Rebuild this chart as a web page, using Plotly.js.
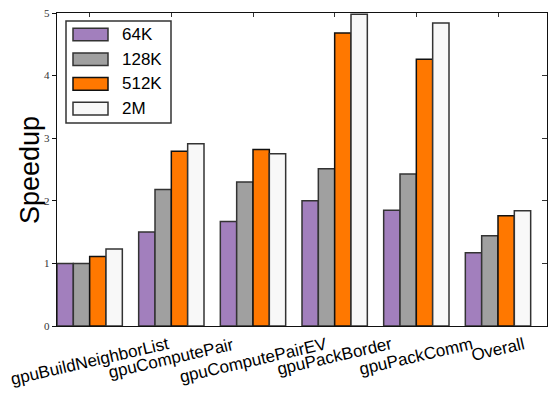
<!DOCTYPE html>
<html>
<head>
<meta charset="utf-8">
<script src="https://cdn.plot.ly/plotly-3.0.1.min.js"></script>
<style>html,body{margin:0;padding:0;background:#fff;}#chart{width:554px;height:398px;}</style>
</head>
<body>
<div id="chart"></div>
<script>
// ---- data ----
const categories = ['gpuBuildNeighborList', 'gpuComputePair', 'gpuComputePairEV', 'gpuPackBorder', 'gpuPackComm', 'Overall'];
const seriesNames = ['64K', '128K', '512K', '2M'];
const speedup64K  = [1.00, 1.50, 1.67, 2.00, 1.85, 1.17];
const speedup128K = [1.00, 2.18, 2.30, 2.51, 2.43, 1.44];
const speedup512K = [1.11, 2.79, 2.82, 4.68, 4.26, 1.76];
const speedup2M   = [1.23, 2.91, 2.75, 4.98, 4.84, 1.84];
const yTickValues = [0, 1, 2, 3, 4, 5];
const yTitle = 'Speedup';

// ---- styles ----
const colors = ['#a27fbd', '#a0a0a0', '#ff7800', '#f8f8f8'];
const edgeColors = ['#333333', '#333333', '#111111', '#333333'];
const seriesValues = [speedup64K, speedup128K, speedup512K, speedup2M];

const traces = seriesNames.map((name, i) => ({
  type: 'bar',
  name: name,
  x: categories,
  y: seriesValues[i],
  marker: { color: colors[i], line: { color: edgeColors[i], width: 1.5 } },
  showlegend: false,
  hoverinfo: 'skip'
}));
// helper trace for top/right tick axes
traces.push({ type: 'scatter', x: [], y: [], xaxis: 'x2', yaxis: 'y2', showlegend: false, hoverinfo: 'skip' });

// plot area in pixels (layout)
const PL = 57, PR = 547, PT = 13, PB = 326;
const W = 554, H = 398;
const px = x => (x - PL) / (PR - PL);
const py = y => (PB - y) / (PB - PT);

const shapes = [];
const annotations = [];

// custom legend (layout)
shapes.push({ type: 'rect', xref: 'paper', yref: 'paper', x0: px(66), x1: px(171), y0: py(123), y1: py(21),
  line: { color: '#333', width: 1.5 }, fillcolor: '#fff', layer: 'above' });
seriesNames.forEach((name, i) => {
  const cy = 34.5 + 24.7 * i;
  shapes.push({ type: 'rect', xref: 'paper', yref: 'paper', x0: px(73), x1: px(108), y0: py(cy + 6.3), y1: py(cy - 6.3),
    line: { color: edgeColors[i], width: 1.5 }, fillcolor: colors[i], layer: 'above' });
  annotations.push({ xref: 'paper', yref: 'paper', x: px(120), y: py(cy), xanchor: 'left', yanchor: 'middle',
    text: name, showarrow: false, font: { family: 'Liberation Sans, Arial, sans-serif', size: 17, color: '#000' } });
});

// x category labels (rotated, centred on the category)
categories.forEach(c => {
  annotations.push({ xref: 'x', yref: 'paper', x: c, y: 0, xanchor: 'center', yanchor: 'top', yshift: -6,
    textangle: -13, text: c, showarrow: false,
    font: { family: 'Liberation Sans, Arial, sans-serif', size: 17, color: '#000' } });
});

// y axis title
annotations.push({ xref: 'paper', yref: 'paper', x: px(30), y: py(170), xanchor: 'center', yanchor: 'middle',
  textangle: -90, text: yTitle, showarrow: false,
  font: { family: 'Liberation Sans, Arial, sans-serif', size: 27, color: '#000' } });

const layout = {
  width: W, height: H,
  margin: { l: PL, r: W - PR, t: PT, b: H - PB },
  paper_bgcolor: '#fff', plot_bgcolor: '#fff',
  barmode: 'group', bargap: 0.2, bargroupgap: 0,
  showlegend: false,
  xaxis: {
    type: 'category', range: [-0.4, categories.length - 0.4],
    showticklabels: false, ticks: '', showgrid: false, zeroline: false,
    showline: true, mirror: true, linecolor: '#111', linewidth: 1.3
  },
  yaxis: {
    range: [0, 5], tickmode: 'array', tickvals: yTickValues,
    ticks: 'outside', ticklen: 4, tickwidth: 1, tickcolor: '#111',
    tickfont: { family: 'Liberation Serif, DejaVu Serif, serif', size: 11, color: '#333' },
    showgrid: false, zeroline: false, showline: true, mirror: true, linecolor: '#111', linewidth: 1.3
  },
  xaxis2: {
    overlaying: 'x', side: 'top', anchor: 'y2', range: [-0.4, categories.length - 0.4],
    tickmode: 'array', tickvals: categories.map((c, i) => i),
    ticks: 'inside', ticklen: 4, tickwidth: 1, tickcolor: '#333',
    showticklabels: false, showgrid: false, zeroline: false, showline: false
  },
  yaxis2: {
    overlaying: 'y', side: 'right', anchor: 'x2', range: [0, 5], tickmode: 'array', tickvals: yTickValues,
    ticks: 'inside', ticklen: 5, tickwidth: 1, tickcolor: '#333',
    showticklabels: false, showgrid: false, zeroline: false, showline: false
  },
  shapes: shapes,
  annotations: annotations
};

Plotly.newPlot('chart', traces, layout, { displayModeBar: false, staticPlot: true });
</script>
</body>
</html>
